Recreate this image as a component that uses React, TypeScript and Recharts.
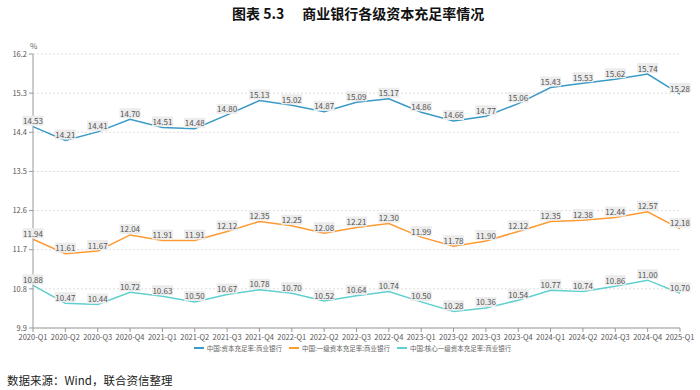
import React from "react";
import { LineChart, Line, XAxis, YAxis, CartesianGrid, LabelList } from "recharts";

const quarters = [
  "2020-Q1", "2020-Q2", "2020-Q3", "2020-Q4",
  "2021-Q1", "2021-Q2", "2021-Q3", "2021-Q4",
  "2022-Q1", "2022-Q2", "2022-Q3", "2022-Q4",
  "2023-Q1", "2023-Q2", "2023-Q3", "2023-Q4",
  "2024-Q1", "2024-Q2", "2024-Q3", "2024-Q4",
  "2025-Q1",
];
const capitalRatio = [14.53, 14.21, 14.41, 14.70, 14.51, 14.48, 14.80, 15.13, 15.02, 14.87, 15.09, 15.17, 14.86, 14.66, 14.77, 15.06, 15.43, 15.53, 15.62, 15.74, 15.28];
const tier1Ratio = [11.94, 11.61, 11.67, 12.04, 11.91, 11.91, 12.12, 12.35, 12.25, 12.08, 12.21, 12.30, 11.99, 11.78, 11.90, 12.12, 12.35, 12.38, 12.44, 12.57, 12.18];
const coreTier1Ratio = [10.88, 10.47, 10.44, 10.72, 10.63, 10.50, 10.67, 10.78, 10.70, 10.52, 10.64, 10.74, 10.50, 10.28, 10.36, 10.54, 10.77, 10.74, 10.86, 11.00, 10.70];
const yTicks = [9.9, 10.8, 11.7, 12.6, 13.5, 14.4, 15.3, 16.2];
const seriesNames = ["中国:资本充足率:商业银行", "中国:一级资本充足率:商业银行", "中国:核心一级资本充足率:商业银行"];
const seriesColors = ["#3a9ac7", "#ff9a33", "#5fd0cf"];
const titleNo = "图表 5.3";
const titleText = "商业银行各级资本充足率情况";
const source = "数据来源：Wind，联合资信整理";

const data = quarters.map((q, i) => ({
  q,
  a: capitalRatio[i],
  b: tier1Ratio[i],
  c: coreTier1Ratio[i],
}));

const FONT = "'Noto Sans CJK SC', 'Noto Sans', sans-serif";

const renderLabel = (props: any) => {
  const { x, y, value } = props;
  const text = Number(value).toFixed(2);
  const w = 21;
  const h = 10;
  return (
    <g>
      <rect x={x - w / 2} y={y - 11} width={w} height={h} fill="#ececec" />
      <text x={x} y={y - 6} textAnchor="middle" dominantBaseline="central" fontSize={8} fill="#555" fontFamily={FONT}>
        {text}
      </text>
    </g>
  );
};

export default function App() {
  const keys = ["a", "b", "c"];
  return (
    <div style={{ position: "absolute", left: 0, top: 0, width: 700, height: 390, background: "#fff", fontFamily: FONT }}>
      <div style={{ position: "absolute", left: 232, top: 4, width: 280, fontSize: 14, fontWeight: 700, color: "#111", whiteSpace: "pre", lineHeight: "18px" }}>
        <span>{titleNo}</span>
        <span style={{ marginLeft: 18 }}>{titleText}</span>
      </div>
      <div style={{ position: "absolute", left: 30, top: 40, fontSize: 8, color: "#666" }}>%</div>
      <LineChart width={700} height={390} data={data} margin={{ top: 54, right: 20, bottom: 32, left: 0 }} style={{ position: "absolute", left: 0, top: 0 }}>
        <CartesianGrid vertical={false} stroke="#dddddd" strokeDasharray="2 2" />
        <XAxis
          dataKey="q"
          height={30}
          interval={0}
          stroke="#999"
          tickSize={4}
          tick={{ fontSize: 7.5, fill: "#555", fontFamily: FONT, dy: 1 }}
          padding={{ left: 0, right: 0 }}
        />
        <YAxis
          width={33}
          domain={[9.9, 16.2]}
          ticks={yTicks}
          interval={0}
          stroke="#999"
          tickSize={4}
          tickFormatter={(v: number) => v.toFixed(1)}
          tick={{ fontSize: 7.5, fill: "#555", fontFamily: FONT }}
          allowDataOverflow
        />
        {keys.map((k, i) => (
          <Line key={k} type="linear" dataKey={k} stroke={seriesColors[i]} strokeWidth={1.5} dot={false} isAnimationActive={false}>
            <LabelList dataKey={k} content={renderLabel} />
          </Line>
        ))}
      </LineChart>
      <div style={{ position: "absolute", left: 0, top: 343, width: 700, display: "flex", justifyContent: "center", alignItems: "center", marginLeft: 6 }}>
        {seriesNames.map((n, i) => (
          <div key={n} style={{ display: "flex", alignItems: "center", marginRight: 7 }}>
            <span style={{ display: "inline-block", width: 10, height: 2, background: seriesColors[i], marginRight: 3 }} />
            <span style={{ fontSize: 6.5, color: "#666" }}>{n}</span>
          </div>
        ))}
      </div>
      <div style={{ position: "absolute", left: 7, top: 372, fontSize: 11.5, color: "#222" }}>{source}</div>
    </div>
  );
}
